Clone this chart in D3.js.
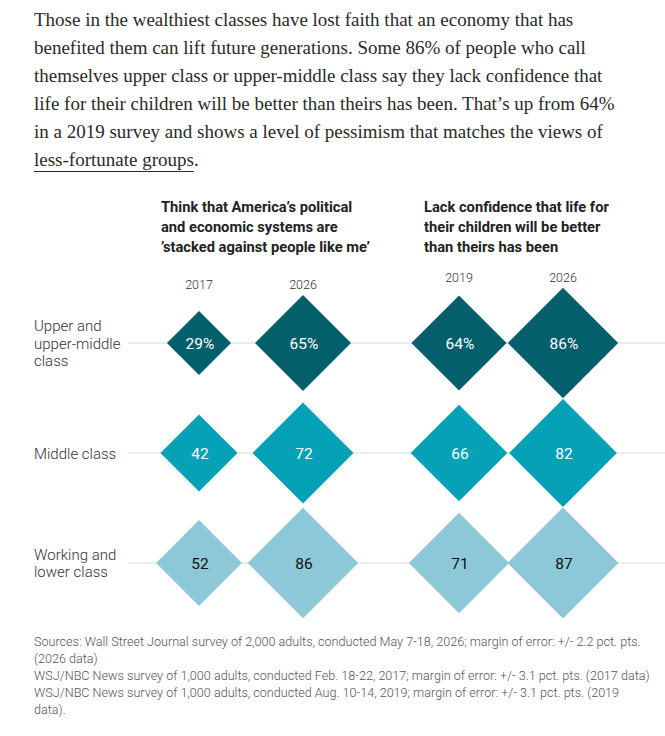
<!DOCTYPE html>
<html>
<head>
<meta charset="utf-8">
<script src="https://cdn.jsdelivr.net/npm/d3@7"></script>
<style>
  html, body { margin: 0; padding: 0; background: #fff; }
  svg { display: block; }
</style>
</head>
<body>
<div id="chart"></div>
<script>
// ---------- data ----------
const introLines = [
  "Those in the wealthiest classes have lost faith that an economy that has",
  "benefited them can lift future generations. Some 86% of people who call",
  "themselves upper class or upper-middle class say they lack confidence that",
  "life for their children will be better than theirs has been. That\u2019s up from 64%",
  "in a 2019 survey and shows a level of pessimism that matches the views of"
];
const introLink = "less-fortunate groups";

const groups = ["stacked", "confidence"];
const groupTitles = [
  ["Think that America\u2019s political", "and economic systems are", "\u2019stacked against people like me\u2019"],
  ["Lack confidence that life for", "their children will be better", "than theirs has been"]
];
const years = [["2017", "2026"], ["2019", "2026"]];

const categories = ["upper", "middle", "working"];
const categoryLabels = [["Upper and", "upper-middle", "class"], ["Middle class"], ["Working and", "lower class"]];

const stacked2017 = [29, 42, 52];
const stacked2026 = [65, 72, 86];
const confidence2019 = [64, 66, 71];
const confidence2026 = [86, 82, 87];
const seriesValues = [[stacked2017, stacked2026], [confidence2019, confidence2026]];

const rowColors = ["#035f6b", "#05a1b7", "#8cc8d8"];
const rowTextColors = ["#ffffff", "#ffffff", "#111111"];

const sourceLines = [
  "Sources: Wall Street Journal survey of 2,000 adults, conducted May 7-18, 2026;  margin of error: +/- 2.2 pct. pts.",
  "(2026 data)",
  "WSJ/NBC News survey of 1,000 adults, conducted Feb. 18-22, 2017; margin of error: +/- 3.1 pct. pts. (2017 data)",
  "WSJ/NBC News survey of 1,000 adults, conducted Aug. 10-14, 2019; margin of error: +/- 3.1 pct. pts. (2019",
  "data)."
];

// ---------- layout ----------
const W = 665, H = 736;
const svg = d3.select("#chart").append("svg").attr("width", W).attr("height", H);

const serif = "'Liberation Serif', 'Times New Roman', serif";
const sans = "Roboto, 'Noto Sans', sans-serif";

// fit a font size so that a reference line matches a target width
function fitSize(text, family, weight, base, target) {
  const t = svg.append("text").attr("font-family", family).attr("font-weight", weight)
    .attr("font-size", base).text(text);
  const w = t.node().getComputedTextLength();
  t.remove();
  return base * target / w;
}

// intro paragraph
const introSize = Math.min(19, fitSize(introLines[3], serif, 400, 18, 623));
const intro = svg.append("g").attr("font-family", serif).attr("font-size", introSize).attr("fill", "#2a2a2a");
introLines.forEach((l, i) => {
  intro.append("text").attr("x", 34).attr("y", 26 + i * 27.9).text(l);
});
const linkY = 26 + 5 * 27.9;
const link = intro.append("text").attr("x", 34).attr("y", linkY).text(introLink);
const linkW = link.node().getComputedTextLength();
intro.append("text").attr("x", 34 + linkW).attr("y", linkY).text(".");
intro.append("line").attr("x1", 34).attr("x2", 34 + linkW).attr("y1", linkY + 6).attr("y2", linkY + 6)
  .attr("stroke", "#2a2a2a").attr("stroke-width", 1);

// scales
const groupX = d3.scalePoint().domain(groups).range([251, 511]);
const innerX = d3.scalePoint().domain([0, 1]).range([-52, 52]);
const rowY = d3.scalePoint().domain(categories).range([343, 563]);
const diag = d3.scaleSqrt().domain([0, 100]).range([0, 119]);

// grid lines
svg.append("g").selectAll("line").data(categories).join("line")
  .attr("x1", 128).attr("x2", W)
  .attr("y1", d => rowY(d)).attr("y2", d => rowY(d))
  .attr("stroke", "#e6e6e6").attr("stroke-width", 1.5);

// row labels
const rowLab = svg.append("g").attr("font-family", sans).attr("font-weight", 300)
  .attr("font-size", 15).attr("fill", "#333");
categories.forEach((c, i) => {
  const lines = categoryLabels[i];
  const lh = 17.5;
  const y0 = rowY(c) - (lines.length - 1) * lh / 2 + 5.5;
  lines.forEach((l, j) => rowLab.append("text").attr("x", 34).attr("y", y0 + j * lh).text(l));
});

// group titles
const titleSize = fitSize(groupTitles[0][2], sans, 700, 15, 209);
groups.forEach((g, gi) => {
  const tg = svg.append("g").attr("font-family", sans).attr("font-weight", 700)
    .attr("font-size", Math.min(15, titleSize)).attr("fill", "#222");
  const x0 = groupX(g) - 90 + (gi === 1 ? 3 : 0);
  groupTitles[gi].forEach((l, j) => tg.append("text").attr("x", x0).attr("y", 212 + j * 20).text(l));
});

// diamonds
groups.forEach((g, gi) => {
  const vals = seriesValues[gi];
  const topMax = d3.max(vals.map(s => s[0]));
  const yearY = rowY(categories[0]) - diag(topMax) / 2 - 6;
  years[gi].forEach((yr, si) => {
    const cx = groupX(g) + innerX(si);
    svg.append("text").attr("x", cx).attr("y", yearY).attr("text-anchor", "middle")
      .attr("font-family", sans).attr("font-weight", 300).attr("font-size", 12.5).attr("fill", "#333")
      .text(yr);
    const data = vals[si].map((v, ri) => ({ v, ri, cat: categories[ri] }));
    const gg = svg.append("g");
    gg.selectAll("path").data(data).join("path")
      .attr("d", d => {
        const h = diag(d.v) / 2, cy = rowY(d.cat);
        return `M${cx},${cy - h}L${cx + h},${cy}L${cx},${cy + h}L${cx - h},${cy}Z`;
      })
      .attr("fill", d => rowColors[d.ri]);
    gg.selectAll("text").data(data).join("text")
      .attr("x", cx + 1).attr("y", d => rowY(d.cat) + 5.5)
      .attr("text-anchor", "middle")
      .attr("font-family", sans).attr("font-weight", 400).attr("font-size", 15.5)
      .attr("fill", d => rowTextColors[d.ri])
      .text(d => d.ri === 0 ? d.v + "%" : d.v);
  });
});

// sources
const srcSize = Math.min(13, fitSize(sourceLines[2], sans, 300, 13, 616));
const src = svg.append("g").attr("font-family", sans).attr("font-weight", 300)
  .attr("font-size", srcSize).attr("fill", "#555");
sourceLines.forEach((l, i) => src.append("text").attr("x", 34).attr("y", 646 + i * 17).text(l));
</script>
</body>
</html>
